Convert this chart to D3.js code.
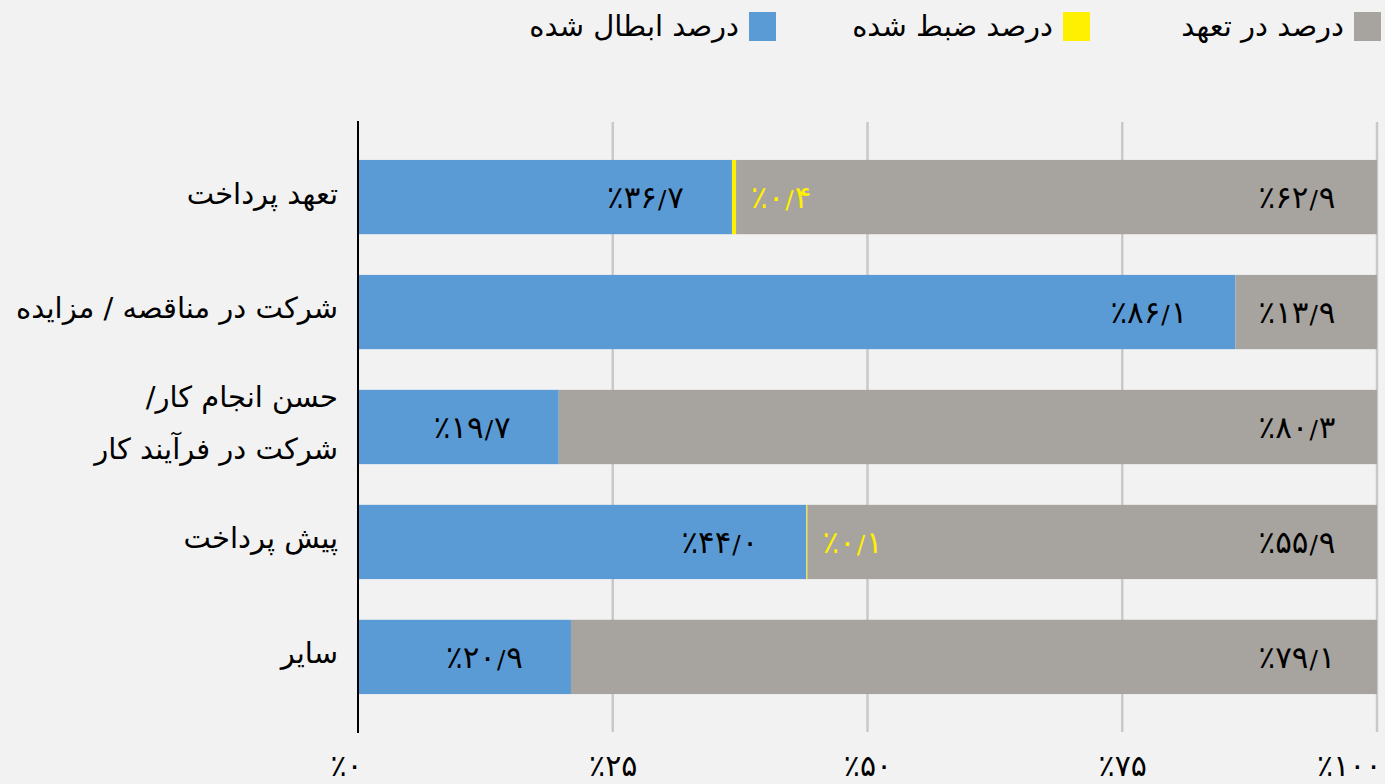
<!DOCTYPE html>
<html lang="fa">
<head>
<meta charset="utf-8">
<script src="https://cdn.jsdelivr.net/npm/d3@7"></script>
<style>
  html, body { margin: 0; padding: 0; background: #f2f2f2; }
  svg { display: block; font-family: "DejaVu Sans", "Noto Sans", sans-serif; }
</style>
</head>
<body>
<svg id="chart" width="1385" height="784"></svg>
<script>
// Share of guarantees by type and status (percent)
const categories = [
  "تعهد پرداخت",
  "شرکت در مناقصه / مزایده",
  "حسن انجام کار/\nشرکت در فرآیند کار",
  "پیش پرداخت",
  "سایر"
];
const cancelled = [36.7, 86.1, 19.7, 44.0, 20.9];  // درصد ابطال شده
const seized    = [0.4, 0, 0, 0.1, 0];              // درصد ضبط شده
const committed = [62.9, 13.9, 80.3, 55.9, 79.1];   // درصد در تعهد
const seriesNames = ["درصد ابطال شده", "درصد ضبط شده", "درصد در تعهد"];
const tickValues = [0, 25, 50, 75, 100];

const colors = { cancelled: "#5b9bd5", seized: "#ffef00", committed: "#a7a39e" };

// Persian digits; percent sign drawn in front, decimal mark as a small slash
const faDigits = "۰۱۲۳۴۵۶۷۸۹";
const toFa = s => String(s).replace(/[0-9]/g, d => faDigits[+d]);

function writePct(sel, v, dec) {
  const parts = v.toFixed(dec).split(".");
  sel.append("tspan").text("٪" + toFa(parts[0]));
  if (parts.length > 1) {
    sel.append("tspan").attr("font-size", "0.8em").attr("dx", 1).text("/");
    sel.append("tspan").attr("dx", 1).text(toFa(parts[1]));
  }
}

const svg = d3.select("#chart");
const plot = { left: 358, right: 1377, top: 122, bottom: 732 };

const x = d3.scaleLinear().domain([0, 100]).range([plot.left, plot.right]);
const y = d3.scaleBand()
  .domain(categories)
  .range([plot.top, plot.bottom])
  .paddingInner(0.354)
  .paddingOuter(0.33);

// vertical gridlines
svg.append("g")
  .selectAll("line")
  .data(tickValues.filter(t => t > 0))
  .join("line")
  .attr("x1", d => x(d)).attr("x2", d => x(d))
  .attr("y1", plot.top).attr("y2", plot.bottom)
  .attr("stroke", "#c9c9c9")
  .attr("stroke-width", 2.5);

// stacked rows
const rows = categories.map((c, i) => ({
  cat: c,
  segs: [
    { key: "cancelled", x0: 0, x1: cancelled[i], v: cancelled[i] },
    { key: "seized", x0: cancelled[i], x1: cancelled[i] + seized[i], v: seized[i] },
    { key: "committed", x0: cancelled[i] + seized[i], x1: cancelled[i] + seized[i] + committed[i], v: committed[i] }
  ]
}));

const rowG = svg.append("g").selectAll("g")
  .data(rows)
  .join("g")
  .attr("transform", d => `translate(0,${y(d.cat)})`);

rowG.selectAll("rect")
  .data(d => d.segs.filter(s => s.v > 0))
  .join("rect")
  .attr("x", s => x(s.x0))
  .attr("width", s => x(s.x1) - x(s.x0))
  .attr("y", 0)
  .attr("height", y.bandwidth())
  .attr("fill", s => colors[s.key]);

const bh = y.bandwidth();
const labelFont = 31;

// value labels
rowG.each(function (d) {
  const g = d3.select(this);
  const [b, s, c] = d.segs;
  g.append("text")
    .attr("x", x(b.x1) - 48)
    .attr("y", bh / 2 + 11)
    .attr("text-anchor", "end")
    .attr("direction", "ltr")
    .attr("font-size", labelFont)
    .attr("fill", "#000")
    .call(writePct, b.v, 1);
  if (s.v > 0) {
    g.append("text")
      .attr("x", x(s.x1) + 15)
      .attr("y", bh / 2 + 11)
      .attr("text-anchor", "start")
      .attr("direction", "ltr")
      .attr("font-size", labelFont)
      .attr("fill", colors.seized)
      .call(writePct, s.v, 1);
  }
  g.append("text")
    .attr("x", x(100) - 80)
    .attr("y", bh / 2 + 11)
    .attr("text-anchor", "middle")
    .attr("direction", "ltr")
    .attr("font-size", labelFont)
    .attr("fill", "#000")
    .call(writePct, c.v, 1);
});

// category axis (labels only) and the baseline
const yAxis = svg.append("g")
  .attr("transform", `translate(${plot.left},0)`)
  .call(d3.axisLeft(y).tickSize(0).tickFormat(""));
yAxis.select(".domain").remove();

yAxis.selectAll(".tick").each(function (d) {
  const lines = d.split("\n");
  const t = d3.select(this).append("text")
    .attr("x", -20)
    .attr("direction", "rtl")
    .attr("text-anchor", "start")
    .attr("fill", "#000")
    .attr("font-size", 29)
    .attr("font-family", "DejaVu Sans, sans-serif");
  const lh = 52;
  lines.forEach((ln, k) => {
    t.append("tspan")
      .attr("x", -20)
      .attr("y", (k - (lines.length - 1) / 2) * lh - 4)
      .attr("dy", "0.36em")
      .text(ln);
  });
});

svg.append("line")
  .attr("x1", plot.left).attr("x2", plot.left)
  .attr("y1", plot.top - 1).attr("y2", plot.bottom + 1)
  .attr("stroke", "#000")
  .attr("stroke-width", 2);

// percentage axis
const xAxis = svg.append("g")
  .attr("transform", `translate(0,${plot.bottom})`)
  .call(d3.axisBottom(x).tickValues(tickValues).tickSize(0).tickFormat(""));
xAxis.select(".domain").remove();
xAxis.selectAll(".tick text").remove();
xAxis.selectAll(".tick").append("text")
  .attr("font-size", 30)
  .attr("font-family", "DejaVu Sans, sans-serif")
  .attr("fill", "#000")
  .attr("direction", "ltr")
  .attr("text-anchor", d => d === 100 ? "end" : "middle")
  .attr("x", d => d === 0 ? -12 : d === 100 ? 4 : 0)
  .attr("y", 44)
  .each(function (d) { d3.select(this).call(writePct, d, 0); });

// legend (right to left: committed, seized, cancelled)
const legendItems = [
  { name: seriesNames[2], color: colors.committed, right: 1381 },
  { name: seriesNames[1], color: colors.seized, right: 1090 },
  { name: seriesNames[0], color: colors.cancelled, right: 776 }
];
const lg = svg.append("g").selectAll("g").data(legendItems).join("g");
lg.append("rect")
  .attr("x", d => d.right - 27)
  .attr("y", 12)
  .attr("width", 27)
  .attr("height", 29)
  .attr("fill", d => d.color);
lg.append("text")
  .attr("x", d => d.right - 37)
  .attr("y", 26)
  .attr("dy", "0.36em")
  .attr("direction", "rtl")
  .attr("text-anchor", "start")
  .attr("font-size", 29)
  .attr("fill", "#000")
  .text(d => d.name);
</script>
</body>
</html>
